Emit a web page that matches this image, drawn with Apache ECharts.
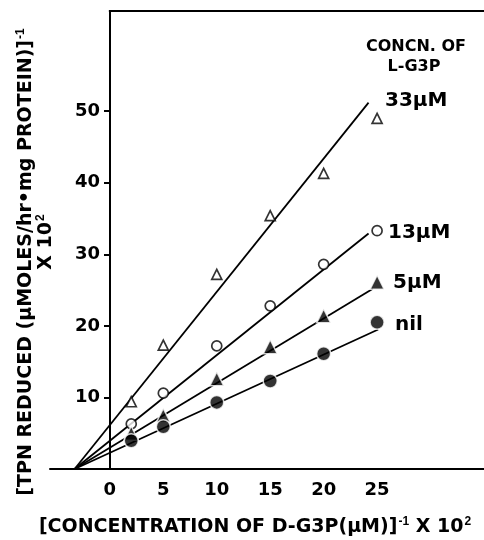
<!DOCTYPE html>
<html><head><meta charset="utf-8">
<script src="https://cdn.jsdelivr.net/npm/echarts@6/dist/echarts.min.js"></script>
<style>html,body{margin:0;padding:0;background:#fff}#c{width:484px;height:540px}</style>
</head><body><div id="c"></div>
<script>
const xValues = [2, 5, 10, 15, 20, 25];
const nilValues = [3.95, 5.9, 9.3, 12.3, 16.1, 20.5];
const uM5Values = [5.0, 7.5, 12.6, 17.1, 21.4, 26.1];
const uM13Values = [6.3, 10.6, 17.2, 22.8, 28.6, 33.3];
const uM33Values = [9.4, 17.3, 27.2, 35.4, 41.3, 49.0];
const convergeX = -3.3;
const fitEnd33 = [24.2, 51.2];
const fitEnd13 = [24.2, 32.9];
const fitEnd5 = [24.6, 25.2];
const fitEndNil = [25.1, 19.5];
const xTicks = [0, 5, 10, 15, 20, 25];
const yTicks = [10, 20, 30, 40, 50];
const seriesNames = ['33\u03bcM', '13\u03bcM', '5\u03bcM', 'nil'];

const FONT = 'DejaVu Sans';
const pts = vals => xValues.map((x, i) => [x, vals[i]]);
const fit = end => [[convergeX, 0], end];

const lineSeries = [fitEnd33, fitEnd13, fitEnd5, fitEndNil].map(e => ({
  type: 'line', data: fit(e), symbol: 'none', silent: true, xAxisIndex: 0, yAxisIndex: 0,
  lineStyle: {color: '#000', width: 1.8}, z: 2
}));
const openStyle = {color: '#fff', borderColor: '#000', borderWidth: 1.7};
const fillStyle = {color: '#000', borderColor: '#fff', borderWidth: 1.5};
const scatter = [
  {type: 'scatter', data: pts(uM33Values), symbol: 'triangle', symbolSize: 10, itemStyle: openStyle, z: 5},
  {type: 'scatter', data: pts(uM13Values), symbol: 'circle', symbolSize: 10, itemStyle: openStyle, z: 5},
  {type: 'scatter', data: pts(uM5Values), symbol: 'triangle', symbolSize: 14, itemStyle: fillStyle, z: 5},
  {type: 'scatter', data: pts(nilValues), symbol: 'circle', symbolSize: 14, itemStyle: fillStyle, z: 5}
].map(s => Object.assign(s, {xAxisIndex: 0, yAxisIndex: 0}));

const chart = echarts.init(document.getElementById('c'));
chart.setOption({
  animation: false,
  backgroundColor: '#fff',
  grid: [
    {left: 50, right: 0, top: 11, bottom: 71},
    {left: 110, right: 0, top: 11, bottom: 71}
  ],
  xAxis: [{
    gridIndex: 0, type: 'value', min: -5.6, max: 35, splitLine: {show: false},
    axisLine: {onZero: false, lineStyle: {color: '#000', width: 2}},
    axisTick: {show: false},
    axisLabel: {customValues: xTicks, color: '#000', fontFamily: FONT, fontWeight: 'bold', fontSize: 18, margin: 12}
  }, {
    gridIndex: 1, type: 'value', min: 0, max: 35, show: false
  }],
  yAxis: [{
    gridIndex: 0, type: 'value', min: 0, max: 64, show: false
  }, {
    gridIndex: 1, type: 'value', min: 0, max: 64, splitLine: {show: false},
    axisLine: {onZero: false, lineStyle: {color: '#000', width: 2}},
    axisTick: {customValues: yTicks, length: 6, lineStyle: {color: '#000', width: 2}},
    axisLabel: {customValues: yTicks, color: '#000', fontFamily: FONT, fontWeight: 'bold', fontSize: 18, margin: 10}
  }],
  series: lineSeries.concat(scatter)
});

const p0 = chart.convertToPixel({gridIndex: 0}, [0, 64]);
const labelPos = [[385, 101], [388, 233], [393, 283], [395, 325]];
const TF = 'bold 19px "DejaVu Sans"';
const LF = 'bold 20px "DejaVu Sans"';
const sup = {fontSize: 12, fontWeight: 'bold', verticalAlign: 'top', padding: [0, 0, 10, 1]};
chart.setOption({
  graphic: [
    {type: 'line', shape: {x1: p0[0] - 1, y1: p0[1], x2: 484, y2: p0[1]}, style: {stroke: '#000', lineWidth: 2}},
    {type: 'text', x: 416, y: 47, style: {text: 'CONCN. OF', font: 'bold 16px "DejaVu Sans"', fill: '#000', align: 'center', verticalAlign: 'middle'}},
    {type: 'text', x: 414, y: 67, style: {text: 'L-G3P', font: 'bold 16px "DejaVu Sans"', fill: '#000', align: 'center', verticalAlign: 'middle'}}
  ].concat(seriesNames.map((n, i) => ({
    type: 'text', x: labelPos[i][0], y: labelPos[i][1],
    style: {text: n, font: LF, fill: '#000', verticalAlign: 'middle'}
  }))).concat([
    {type: 'text', x: 26, y: 262, rotation: Math.PI / 2,
     style: {text: '[TPN REDUCED (\u03bcMOLES/hr\u2022mg PROTEIN)]{s|-1}', rich: {s: sup},
       font: TF, fill: '#000', align: 'center', verticalAlign: 'middle'}},
    {type: 'text', x: 46, y: 242, rotation: Math.PI / 2,
     style: {text: 'X 10{s|2}', rich: {s: sup}, font: TF, fill: '#000', align: 'center', verticalAlign: 'middle'}},
    {type: 'text', x: 255, y: 527,
     style: {text: '[CONCENTRATION OF D-G3P(\u03bcM)]{s|-1} X 10{s|2}', rich: {s: sup},
       font: TF, fill: '#000', align: 'center', verticalAlign: 'middle'}}
  ])
});
</script></body></html>
